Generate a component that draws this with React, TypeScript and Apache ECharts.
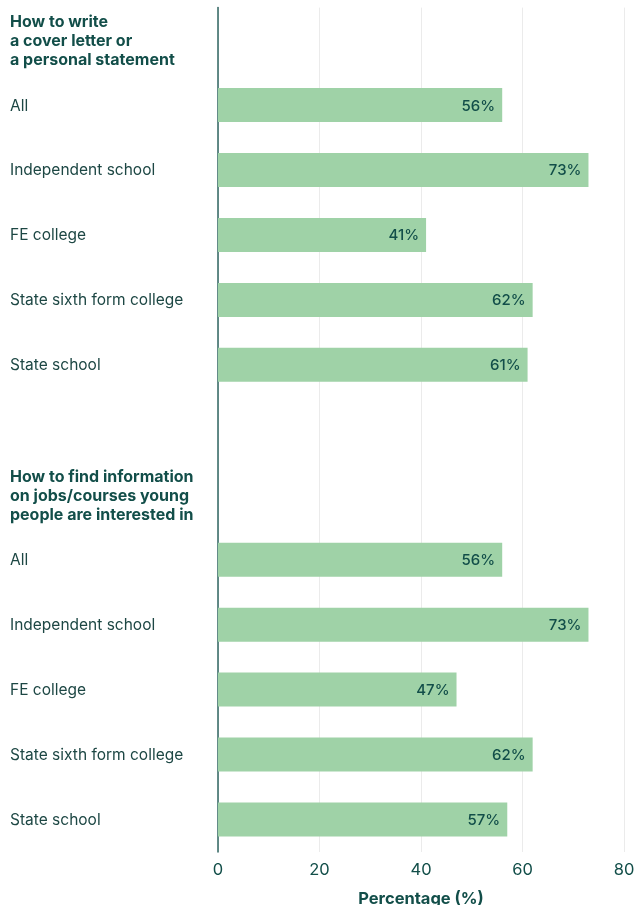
import React, { useEffect, useRef } from "react";
import * as echarts from "echarts";

const heading1 = "How to write\na cover letter or\na personal statement";
const heading2 = "How to find information\non jobs/courses young\npeople are interested in";
const groupCategories = ["All", "Independent school", "FE college", "State sixth form college", "State school"];
const coverLetterValues = [56, 73, 41, 62, 61];
const findInfoValues = [56, 73, 47, 62, 57];
const xTicks = [0, 20, 40, 60, 80];

const headings = new Set([heading1, heading2]);
const categories = [heading1, ...groupCategories, "", heading2, ...groupCategories];
const seriesData: (number | string)[] = ["-", ...coverLetterValues, "-", "-", ...findInfoValues];

const TEAL = "#124e49";
const FONT = "Inter, 'Noto Sans', sans-serif";

export default function App() {
  const ref = useRef<HTMLDivElement>(null);
  useEffect(() => {
    if (!ref.current) return;
    const chart = echarts.init(ref.current, undefined, { renderer: "svg" });
    chart.setOption({
      animation: false,
      textStyle: { fontFamily: FONT },
      grid: {
        left: 218,
        right: 11,
        top: 7.6,
        bottom: 53,
        containLabel: false,
        outerBoundsMode: "none",
      },
      xAxis: {
        type: "value",
        min: xTicks[0],
        max: xTicks[xTicks.length - 1],
        interval: 20,
        axisLine: { show: false },
        axisTick: { show: false },
        splitLine: { show: true, lineStyle: { color: "#ebebeb", width: 1 } },
        axisLabel: { color: TEAL, fontSize: 16.5, margin: 8, fontFamily: FONT },
        name: "Percentage (%)",
        nameLocation: "middle",
        nameGap: 37,
        nameTextStyle: { color: TEAL, fontSize: 16.5, fontWeight: "bold", fontFamily: FONT },
      },
      yAxis: {
        type: "category",
        inverse: true,
        data: categories,
        axisLine: { show: true, lineStyle: { color: "#2f6461", width: 1.5 } },
        axisTick: { show: false },
        splitLine: { show: false },
        axisLabel: {
          align: "left",
          margin: 208,
          color: "#1d4744",
          fontSize: 15.5,
          fontFamily: FONT,
          interval: 0,
          formatter: (v: string) => (headings.has(v) ? `{h|${v}}` : v),
          rich: {
            h: { fontWeight: "bold", fontSize: 16, color: TEAL, lineHeight: 19, fontFamily: FONT },
          },
        },
      },
      series: [
        {
          type: "bar",
          data: seriesData,
          barWidth: 34,
          itemStyle: { color: "#9fd2a7" },
          label: {
            show: true,
            position: "insideRight",
            distance: 7,
            formatter: "{c}%",
            color: TEAL,
            fontSize: 15,
            fontWeight: 500,
            fontFamily: FONT,
          },
        },
      ],
    });
    return () => chart.dispose();
  }, []);
  return <div ref={ref} style={{ position: "fixed", left: 0, top: 0, width: 635, height: 905 }} />;
}
